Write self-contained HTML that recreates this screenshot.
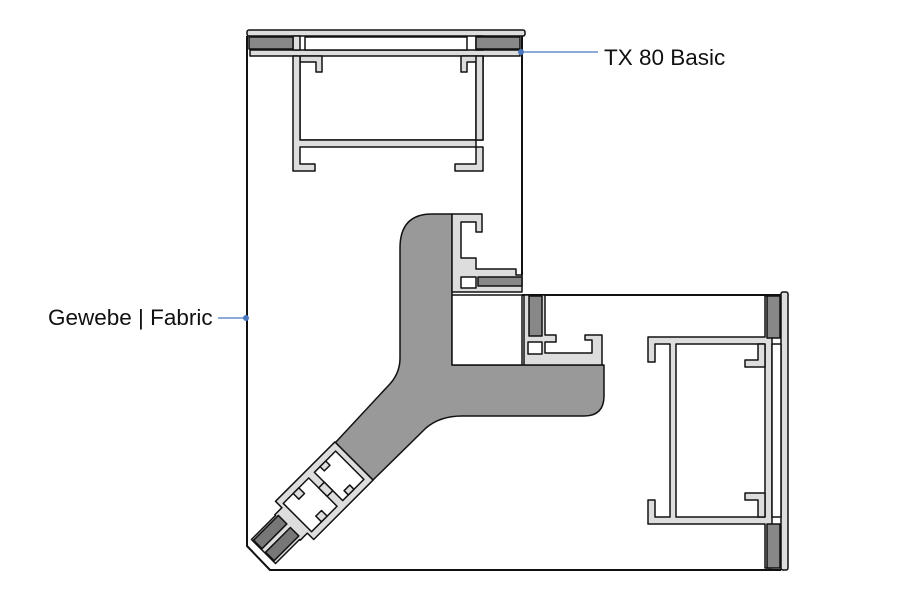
<!DOCTYPE html>
<html><head><style>
html,body{margin:0;padding:0;background:#fff;}
svg{display:block;}
text{font-family:"Liberation Sans",sans-serif;font-size:22.5px;fill:#111;}
</style></head><body>
<svg width="900" height="600" viewBox="0 0 900 600">
<g stroke="#111" stroke-width="1.5" fill="#ddd" stroke-linejoin="round">
<path d="M452,214 L432,214 Q400,214 400,248 L400,358 Q400,374 388,386 L335,443 L373,480 L426,428 Q440,416 462,416 L584,416 Q604,416 604,396 L604,365 L452,365 Z" fill="#999"/>
<rect x="452" y="295" width="70" height="70" fill="#fff"/>
<path d="M247,36 L247,546 L270,570 L781,570" fill="none" stroke-width="2"/>
<path d="M522,36 L522,275" fill="none" stroke-width="2"/>
<path d="M522,295 L781,295" fill="none" stroke-width="2"/>
<rect x="247" y="30" width="278" height="6" rx="2"/>
<path d="M250,50 L520,50 L520,56 L483,56 L483,140 L298,140 L298,56 L250,56 Z"/>
<rect x="300" y="56" width="176" height="84" fill="#fff"/>
<path d="M293,36 L300,36 L300,50 L293,50 Z M476,36 L483,36 L483,50 L476,50 Z"/>
<path d="M305,37 L467,37 L467,50 L305,50 Z" fill="#fff"/>
<path d="M300,56 L322,56 L322,72 L316,72 L316,62 L300,62 Z"/>
<path d="M483,56 L461,56 L461,72 L467,72 L467,62 L483,62 Z"/>
<path d="M293,56 L300,56 L300,140 L483,140 L483,56 L476,56 L476,147 L300,147 L300,164 L315,164 L315,171 L293,171 Z"/>
<path d="M476,147 L483,147 L483,171 L455,171 L455,164 L476,164 Z"/>
<rect x="249" y="37" width="44" height="12" fill="#888"/>
<rect x="476" y="37" width="44" height="12" fill="#888"/>
<path d="M452,214 L482,214 L482,232 L476,232 L476,222 L461,222 L461,258 L476,258 L476,269 L516,269 L516,275 L522,275 L522,292 L452,292 Z"/>
<rect x="461" y="277" width="15" height="11" fill="#fff"/>
<rect x="478" y="277" width="44" height="9" fill="#888"/>
<path d="M524,295 L545,295 L545,335 L556,335 L556,342 L545,342 L545,353 L592,353 L592,340 L585,340 L585,335 L602,335 L602,365 L524,365 Z"/>
<rect x="528" y="342" width="14" height="12" fill="#fff"/>
<rect x="529" y="296" width="13" height="40" fill="#888"/>
<rect x="781" y="292" width="7" height="278" rx="2"/>
<path d="M648,337 L765,337 L765,296 L772,296 L772,568 L765,568 L765,524 L648,524 L648,500 L655,500 L655,517 L670,517 L670,344 L655,344 L655,362 L648,362 Z"/>
<rect x="676" y="344" width="89" height="173" fill="#fff"/>
<path d="M772,344 L781,344 L781,517 L772,517 Z" fill="#fff"/>
<path d="M765,344 L765,367 L745,367 L745,360 L758,360 L758,344 Z"/>
<path d="M765,517 L765,493 L745,493 L745,500 L758,500 L758,517 Z"/>
<rect x="767" y="296" width="13" height="42" fill="#888"/>
<rect x="767" y="524" width="13" height="44" fill="#888"/>
<g transform="translate(354,461) rotate(45)">
<path d="M-27,0 L27,0 L27,84 L18,84 L18,94 L17,94 L17,128 L-17,128 L-17,94 L-18,94 L-18,84 L-27,84 Z"/>
<rect x="-20" y="6" width="40" height="30" fill="#fff"/>
<rect x="-20" y="44" width="40" height="36" fill="#fff"/>
<path d="M-6,36 L6,36 L6,44 L-6,44 Z"/>
<path d="M-20,20 L-14,20 L-14,28 L-20,28 Z M14,20 L20,20 L20,28 L14,28 Z M-20,58 L-12,58 L-12,66 L-20,66 Z M12,58 L20,58 L20,66 L12,66 Z"/>
<rect x="-15" y="92" width="12" height="35" fill="#777"/>
<rect x="2" y="92" width="12" height="35" fill="#777"/>
</g>
</g>
<line x1="521" y1="52" x2="598" y2="52" stroke="#4a78c0" stroke-width="1.2"/>
<circle cx="521" cy="52" r="3" fill="#4a78c0"/>
<text x="604" y="65">TX 80 Basic</text>
<line x1="218" y1="318" x2="246" y2="318" stroke="#4a78c0" stroke-width="1.2"/>
<circle cx="246" cy="318" r="3" fill="#4a78c0"/>
<text x="48" y="325">Gewebe | Fabric</text>
</svg>
</body></html>
